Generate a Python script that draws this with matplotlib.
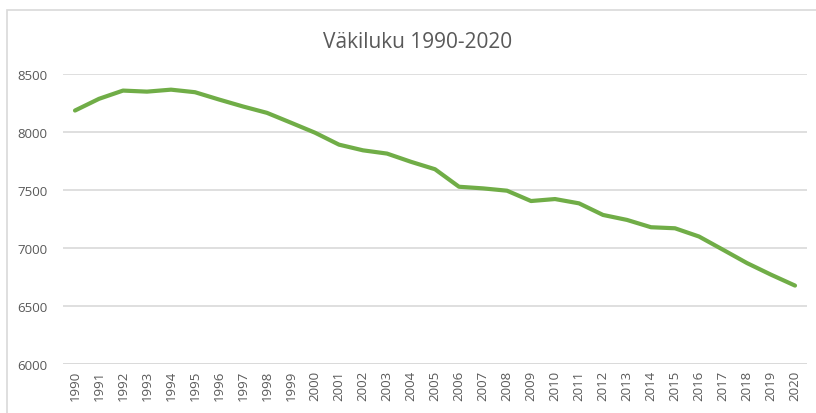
"""Väkiluku 1990-2020, Excel-style line chart"""

import matplotlib.pyplot as plt
from matplotlib.patches import Rectangle

YEARS = list(range(1990, 2021))
POPULATION = [
    8185, 8286, 8357, 8348, 8365, 8343, 8280, 8220, 8165, 8080,
    7994, 7891, 7842, 7814, 7743, 7679, 7528, 7514, 7494, 7405,
    7422, 7385, 7285, 7242, 7179, 7170, 7099, 6985, 6870, 6770,
    6676]
Y_TICKS = [6000, 6500, 7000, 7500, 8000, 8500]
TITLE = 'Väkiluku 1990-2020'

TEXT_COLOR = '#595959'
GRID_COLOR = '#D9D9D9'
LINE_COLOR = '#70AD47'

plt.rcParams['font.family'] = ['Open Sans', 'DejaVu Sans']

fig = plt.figure(figsize=(8.16, 4.14), dpi=100)
# chart area border (right and bottom are cut off in the original)
fig.patches.append(Rectangle(
    (7 / 816, -0.05), 1.2, 1 - 11 / 414 + 0.05,
    transform=fig.transFigure, fill=False,
    edgecolor=GRID_COLOR, linewidth=1.2))

ax = fig.add_axes([63 / 816, 1 - 365 / 414, 744 / 816, 290 / 414])
ax.plot(YEARS, POPULATION, color=LINE_COLOR, linewidth=3,
        solid_capstyle='round', solid_joinstyle='round', zorder=3)

ax.set_xlim(YEARS[0] - 0.5, YEARS[-1] + 0.5)
ax.set_ylim(Y_TICKS[0], Y_TICKS[-1])
ax.set_yticks(Y_TICKS)
ax.set_xticks(YEARS)
ax.set_xticklabels([str(y) for y in YEARS], rotation=90)
ax.tick_params(axis='both', length=0, colors=TEXT_COLOR, labelsize=9.5)
ax.tick_params(axis='y', pad=11)
ax.tick_params(axis='x', pad=4)

ax.grid(axis='y', color=GRID_COLOR, linewidth=1.2)
ax.set_axisbelow(True)
for spine in ax.spines.values():
    spine.set_visible(False)
ax.axhline(Y_TICKS[0], color=GRID_COLOR, linewidth=1.2, zorder=1)

fig.text(418 / 816, 1 - 43 / 414, TITLE, ha='center', va='center',
         fontsize=15, color=TEXT_COLOR)

fig.savefig('out.png', dpi=100)
